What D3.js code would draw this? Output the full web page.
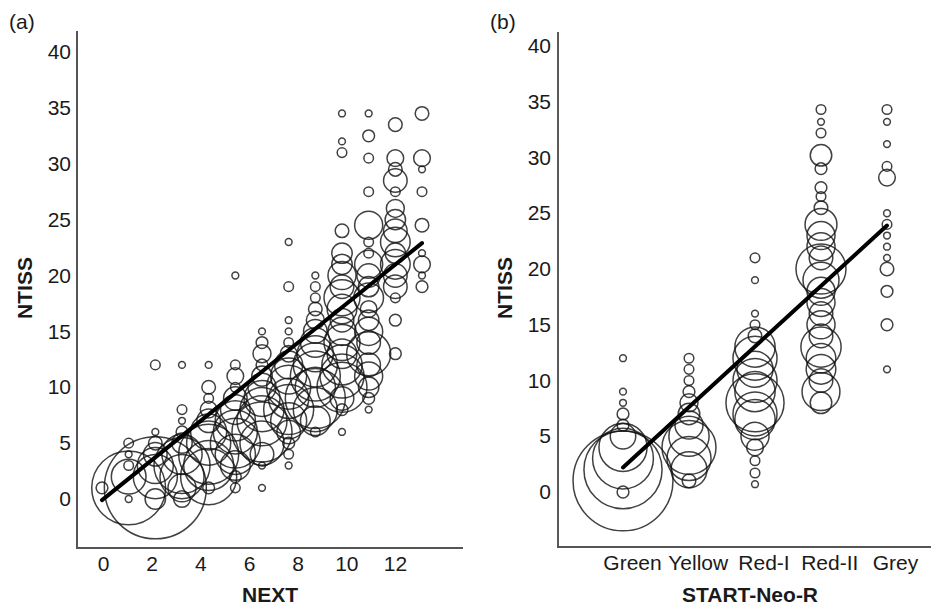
<!DOCTYPE html>
<html>
<head>
<meta charset="utf-8">
<style>
  body { margin: 0; background: #fff; }
  svg text { font-family: "Liberation Sans", Arial, sans-serif; fill: #1a1a1a; }
  .title { font-size: 21px; font-weight: bold; }
  .panel { font-size: 21px; }
  .bubble { fill: none; stroke: #111; stroke-opacity: 0.8; stroke-width: 1.5px; }
  .fit { stroke: #000; stroke-width: 4px; stroke-linecap: round; }
  .frame { stroke: #555; stroke-width: 2px; }
</style>
</head>
<body>
<svg width="931" height="608"></svg>
<script src="https://d3js.org/d3.v7.min.js"></script>
<script>

// panel (a): [NEXT, NTISS, patients]
var nextPoints = [
  [0, 1, 3],
  [1, 0, 1], [1, 1, 118], [1, 2, 26], [1, 3, 2], [1, 4, 1], [1, 5, 2],
  [2, 0, 9], [2, 1, 225], [2, 2, 42], [2, 3, 28], [2, 4, 12], [2, 5, 4], [2, 6, 1], [2, 12, 2],
  [3, 0, 6], [3, 1, 17], [3, 2, 42], [3, 3, 68], [3, 4, 35], [3, 5, 9], [3, 6, 3], [3, 7, 1], [3, 8, 2], [3, 12, 1],
  [4, 1, 3], [4, 2, 68], [4, 3, 54], [4, 4, 78], [4, 5, 42], [4, 6, 28], [4, 7, 12], [4, 8, 6], [4, 9, 2], [4, 10, 4], [4, 12, 1],
  [5, 1, 2], [5, 2, 3], [5, 3, 19], [5, 4, 35], [5, 5, 54], [5, 6, 42], [5, 7, 35], [5, 8, 19], [5, 9, 12], [5, 10, 2], [5, 11, 6], [5, 12, 2], [5, 20, 1],
  [6, 1, 1], [6, 3, 1], [6, 4, 12], [6, 5, 42], [6, 6, 78], [6, 7, 54], [6, 8, 42], [6, 9, 28], [6, 10, 17], [6, 11, 9], [6, 12, 3], [6, 13, 7], [6, 14, 3], [6, 15, 1],
  [7, 3, 1], [7, 4, 2], [7, 5, 3], [7, 6, 12], [7, 7, 28], [7, 8, 54], [7, 9, 35], [7, 10, 42], [7, 11, 28], [7, 12, 17], [7, 13, 6], [7, 14, 2], [7, 15, 1], [7, 16, 1], [7, 19, 2], [7, 23, 1],
  [8, 6, 2], [8, 7, 19], [8, 8, 42], [8, 9, 78], [8, 10, 35], [8, 11, 54], [8, 12, 42], [8, 13, 28], [8, 14, 19], [8, 15, 12], [8, 16, 7], [8, 17, 4], [8, 18, 2], [8, 19, 2], [8, 20, 1],
  [9, 6, 1], [9, 8, 3], [9, 9, 12], [9, 10, 54], [9, 11, 42], [9, 12, 35], [9, 13, 19], [9, 14, 28], [9, 15, 17], [9, 16, 12], [9, 17, 19], [9, 18, 28], [9, 19, 12], [9, 20, 17], [9, 21, 9], [9, 22, 9], [9, 24, 4], [9, 31, 2], [9, 32, 1], [9, 34.5, 1],
  [10, 8, 1], [10, 9, 3], [10, 10, 9], [10, 11, 17], [10, 12, 12], [10, 13, 42], [10, 14, 12], [10, 15, 17], [10, 16, 9], [10, 17, 6], [10, 18, 19], [10, 19, 9], [10, 20, 12], [10, 21, 17], [10, 22, 2], [10, 23, 2], [10, 24.5, 17], [10, 27.5, 2], [10, 30.5, 2], [10, 32.5, 3], [10, 34.5, 1],
  [11, 13, 3], [11, 16, 3], [11, 18, 2], [11, 19, 12], [11, 20, 12], [11, 21, 19], [11, 22, 9], [11, 23, 19], [11, 24, 12], [11, 25, 9], [11, 26, 7], [11, 27.5, 2], [11, 28.5, 12], [11, 29.5, 4], [11, 30.5, 6], [11, 33.5, 4],
  [12, 19, 3], [12, 20, 1], [12, 21, 6], [12, 22, 1], [12, 24.5, 4], [12, 27.5, 2], [12, 29.5, 1], [12, 30.5, 6], [12, 34.5, 4]
];
var nextTicks = [0, 2, 4, 6, 8, 10, 12];
var nextFit = [[0, -0.1], [12, 22.9]];

// panel (b): [START-Neo-R, NTISS, patients]
var startCats = ["Green", "Yellow", "Red-I", "Red-II", "Grey"];
var startPoints = [
  ["Green", 0, 3], ["Green", 1, 216], ["Green", 2, 132], ["Green", 3, 80], ["Green", 4, 50], ["Green", 5, 14],
  ["Green", 6, 3], ["Green", 7, 3], ["Green", 8, 1], ["Green", 9, 1], ["Green", 12, 1],
  ["Yellow", 1, 4], ["Yellow", 2, 28], ["Yellow", 3, 42], ["Yellow", 4, 63], ["Yellow", 5, 35], ["Yellow", 6, 17],
  ["Yellow", 7, 10], ["Yellow", 8, 7], ["Yellow", 9, 3], ["Yellow", 10, 2], ["Yellow", 11, 2], ["Yellow", 12, 2],
  ["Red-I", 0.7, 1], ["Red-I", 1.7, 2], ["Red-I", 2.8, 2], ["Red-I", 4, 6], ["Red-I", 5, 17], ["Red-I", 6.5, 35],
  ["Red-I", 7, 42], ["Red-I", 8, 73], ["Red-I", 9, 35], ["Red-I", 10, 42], ["Red-I", 11, 28], ["Red-I", 12, 42],
  ["Red-I", 13, 35], ["Red-I", 14, 4], ["Red-I", 15, 2], ["Red-I", 16, 1], ["Red-I", 19, 1], ["Red-I", 21, 2],
  ["Red-II", 8, 10], ["Red-II", 9, 31], ["Red-II", 10, 12], ["Red-II", 11, 19], ["Red-II", 12, 19], ["Red-II", 13, 35],
  ["Red-II", 14, 12], ["Red-II", 15, 17], ["Red-II", 16, 12], ["Red-II", 17, 17], ["Red-II", 18, 17], ["Red-II", 19, 28],
  ["Red-II", 20, 54], ["Red-II", 21, 12], ["Red-II", 22, 17], ["Red-II", 23, 17], ["Red-II", 24, 22], ["Red-II", 25.5, 4],
  ["Red-II", 26.5, 2], ["Red-II", 27.3, 3], ["Red-II", 29, 3], ["Red-II", 30.2, 10], ["Red-II", 32.2, 2], ["Red-II", 33.2, 1], ["Red-II", 34.3, 2],
  ["Grey", 11, 1], ["Grey", 15, 3], ["Grey", 18, 3], ["Grey", 20, 4], ["Grey", 21, 1], ["Grey", 22, 1], ["Grey", 23, 1],
  ["Grey", 24, 2], ["Grey", 25, 1], ["Grey", 28.2, 6], ["Grey", 29.2, 2], ["Grey", 31.2, 1], ["Grey", 33.2, 1], ["Grey", 34.3, 2]
];
var startFit = [["Green", 2.2], ["Grey", 23.9]];

var ntissTicks = [0, 5, 10, 15, 20, 25, 30, 35, 40];

var svg = d3.select("svg");

// bubble size: area follows number of patients
var r = d3.scaleSqrt().domain([0, 1]).range([0, 3.4]);

// ---------- panel (a) ----------
var gA = svg.append("g");
var yA = d3.scaleLinear().domain([0, 40]).range([499, 52]);
var xA = d3.scaleLinear().domain([0, 12]).range([102, 422]);
// the printed labels sit a little left of the columns
var xAlab = d3.scaleLinear().domain([0, 12]).range([103, 395]);

gA.append("line").attr("class", "frame").attr("x1", 77).attr("x2", 77).attr("y1", 31).attr("y2", 548);
gA.append("line").attr("class", "frame").attr("x1", 76).attr("x2", 463).attr("y1", 548).attr("y2", 548);

gA.append("g")
    .attr("transform", "translate(77,0)")
    .call(d3.axisLeft(yA).tickValues(ntissTicks).tickSize(0).tickPadding(6))
    .call(function(g) { g.select(".domain").remove(); });

gA.append("g")
    .attr("transform", "translate(0,550)")
    .call(d3.axisBottom(xAlab).tickValues(nextTicks).tickSize(0).tickPadding(6))
    .call(function(g) { g.select(".domain").remove(); });

gA.selectAll(".bubble")
    .data(nextPoints)
    .enter().append("circle")
    .attr("class", "bubble")
    .attr("cx", function(d) { return xA(d[0]); })
    .attr("cy", function(d) { return yA(d[1]); })
    .attr("r", function(d) { return r(d[2]); });

gA.append("line").attr("class", "fit")
    .attr("x1", xA(nextFit[0][0])).attr("y1", yA(nextFit[0][1]))
    .attr("x2", xA(nextFit[1][0])).attr("y2", yA(nextFit[1][1]));

gA.append("text").attr("class", "panel").attr("x", 9).attr("y", 29).text("(a)");
gA.append("text").attr("class", "title").attr("text-anchor", "middle")
    .attr("transform", "translate(32,288) rotate(-90)").text("NTISS");
gA.append("text").attr("class", "title").attr("text-anchor", "middle")
    .attr("x", 270).attr("y", 602).text("NEXT");

// ---------- panel (b) ----------
var gB = svg.append("g");
var yB = d3.scaleLinear().domain([0, 40]).range([492, 46]);
var xB = d3.scalePoint().domain(startCats).range([623, 887]);
var xBlab = d3.scalePoint().domain(startCats).range([632, 895]);

gB.append("line").attr("class", "frame").attr("x1", 558).attr("x2", 558).attr("y1", 32).attr("y2", 547).style("stroke", "#222").style("stroke-width", "1.5px");
gB.append("line").attr("class", "frame").attr("x1", 557).attr("x2", 931).attr("y1", 547).attr("y2", 547);

gB.append("g")
    .attr("transform", "translate(558,0)")
    .call(d3.axisLeft(yB).tickValues(ntissTicks).tickSize(0).tickPadding(7))
    .call(function(g) { g.select(".domain").remove(); });

gB.append("g")
    .attr("transform", "translate(0,549)")
    .call(d3.axisBottom(xBlab).tickSize(0).tickPadding(6))
    .call(function(g) { g.select(".domain").remove(); });

gB.selectAll(".bubble")
    .data(startPoints)
    .enter().append("circle")
    .attr("class", "bubble")
    .attr("cx", function(d) { return xB(d[0]); })
    .attr("cy", function(d) { return yB(d[1]); })
    .attr("r", function(d) { return r(d[2]); });

gB.append("line").attr("class", "fit")
    .attr("x1", xB(startFit[0][0])).attr("y1", yB(startFit[0][1]))
    .attr("x2", xB(startFit[1][0])).attr("y2", yB(startFit[1][1]));

gB.append("text").attr("class", "panel").attr("x", 490).attr("y", 29).text("(b)");
gB.append("text").attr("class", "title").attr("text-anchor", "middle")
    .attr("transform", "translate(512,288) rotate(-90)").text("NTISS");
gB.append("text").attr("class", "title").attr("text-anchor", "middle")
    .attr("x", 750).attr("y", 602).text("START-Neo-R");

svg.selectAll(".tick text").style("font-family", "'Liberation Sans', Arial, sans-serif").style("font-size", "21px").style("fill", "#1a1a1a");

</script>
</body>
</html>
